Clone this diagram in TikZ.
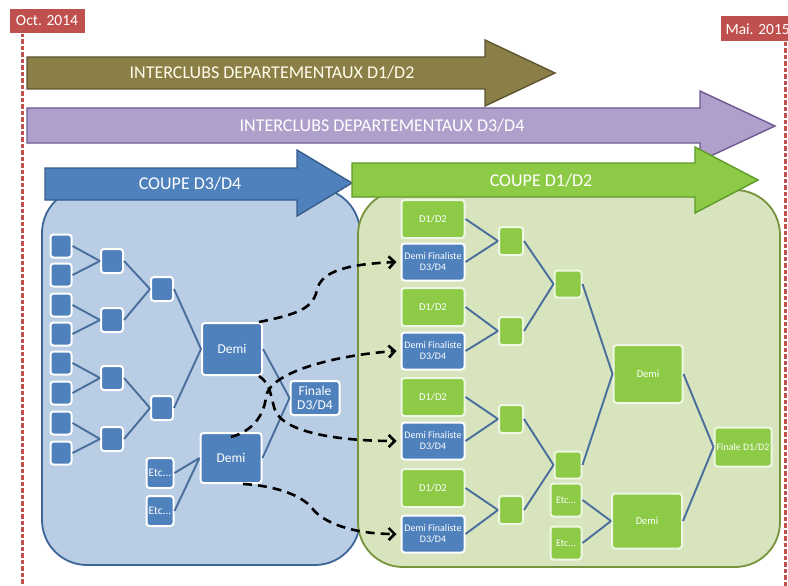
\documentclass[tikz,border=0pt]{standalone}
\usepackage{fontspec}
\setmainfont{Carlito}
\usetikzlibrary{arrows.meta}
\definecolor{cRed}{HTML}{C0504D}
\definecolor{cOlive}{HTML}{8B7F48}
\definecolor{cOliveD}{HTML}{5E5530}
\definecolor{cPurple}{HTML}{AE9FCB}
\definecolor{cPurpleD}{HTML}{6E5A90}
\definecolor{cBlue}{HTML}{4F81BD}
\definecolor{cBlueD}{HTML}{385D8A}
\definecolor{cGreen}{HTML}{8DCB47}
\definecolor{cGreenD}{HTML}{5E9A2A}
\definecolor{cPanelB}{HTML}{B9CDE5}
\definecolor{cPanelBD}{HTML}{3E6597}
\definecolor{cPanelG}{HTML}{D7E4BD}
\definecolor{cPanelGD}{HTML}{77933C}
\definecolor{cLine}{HTML}{4A6E9C}
\tikzset{
  datebox/.style={fill=cRed, draw=white, line width=1pt, text=white, font=\fontsize{15.5}{17}\selectfont, inner xsep=5pt, minimum height=25pt},
  dateline/.style={draw=cRed, line width=3pt, dash pattern=on 4.5pt off 2pt},
  bigarrow/.style={line width=1.4pt},
  arrowtext/.style={text=white, font=\fontsize{18}{20}\selectfont},
  panel/.style={rounded corners=45pt, line width=1.8pt},
  bsq/.style={rectangle, fill=cBlue, draw=white, line width=2pt, rounded corners=3pt, inner sep=0pt, text=white, align=center},
  gsq/.style={rectangle, fill=cGreen, draw=white!85!cGreen, line width=2pt, rounded corners=3pt, inner sep=0pt, text=white, align=center},
  conn/.style={draw=cLine, line width=1.9pt},
  dasharrow/.style={draw=black, line width=2.6pt, dash pattern=on 9pt off 6pt, -{Straight Barb[length=6pt,width=12pt,line width=2.6pt]}},
  smalltxt/.style={font=\fontsize{10.5}{11.5}\selectfont},
  dftxt/.style={font=\fontsize{10}{11}\selectfont},
  midtxt/.style={font=\fontsize{13.5}{15}\selectfont}
}
\begin{document}
\begin{tikzpicture}[x=1pt,y=-1pt]
\path[use as bounding box, clip] (0,0) rectangle (788,586);
\fill[white] (0,0) rectangle (788,586);

% date lines and labels
\coordinate (octTop) at (22,33);
\coordinate (octBot) at (22,586);
\draw[dateline] (octTop) -- (octBot);
\coordinate (maiTop) at (785,42);
\coordinate (maiBot) at (785,586);
\draw[dateline] (maiTop) -- (maiBot);
\node[datebox, minimum width=76pt] (oct) at (47,21) {Oct. 2014};
\node[datebox, anchor=west, minimum height=26pt] (mai) at (720,29) {Mai. 2015};

% big arrows
\draw[bigarrow, fill=cOlive, draw=cOliveD] (27,57)--(485,57)--(485,40)--(555,73)--(485,106)--(485,89)--(27,89)--cycle;
\node[arrowtext, text=white!92!yellow] (tOlive) at (272,73) {INTERCLUBS DEPARTEMENTAUX D1/D2};
\draw[bigarrow, fill=cPurple, draw=cPurpleD] (27,108)--(700,108)--(700,91)--(775,126)--(700,161)--(700,143)--(27,143)--cycle;
\node[arrowtext] (tPurple) at (382,126) {INTERCLUBS DEPARTEMENTAUX D3/D4};

% panels
\draw[panel, fill=cPanelB, draw=cPanelBD] (42,188) rectangle (360,565);
\draw[panel, fill=cPanelG, draw=cPanelGD] (358,190) rectangle (780,567);

\draw[bigarrow, fill=cBlue, draw=cBlueD] (45,168)--(297,168)--(297,150)--(352,183)--(297,216)--(297,200)--(45,200)--cycle;
\node[arrowtext] (tBlue) at (190,184) {COUPE D3/D4};
\draw[bigarrow, fill=cGreen, draw=cGreenD] (352,163)--(695,163)--(695,147)--(758,180)--(695,213)--(695,197)--(352,197)--cycle;
\node[arrowtext] (tGreen) at (541,181) {COUPE D1/D2};

% left tree
\tikzset{s1/.style={bsq, minimum width=21pt, minimum height=23pt},
         s2/.style={bsq, minimum width=22pt, minimum height=24pt}}
\node[s1] (a1) at (61,246) {};
\node[s1] (a2) at (61,275) {};
\node[s1] (a3) at (61,305) {};
\node[s1] (a4) at (61,334) {};
\node[s1] (a5) at (61,363) {};
\node[s1] (a6) at (61,393) {};
\node[s1] (a7) at (61,423) {};
\node[s1] (a8) at (61,453) {};
\node[s2] (b1) at (112,261) {};
\node[s2] (b2) at (112,320) {};
\node[s2] (b3) at (112,378) {};
\node[s2] (b4) at (112,439) {};
\node[s2] (c1) at (162,289) {};
\node[s2] (c2) at (162,408) {};
\node[bsq, midtxt, minimum width=60pt, minimum height=52pt] (dA) at (232,349) {Demi};
\node[bsq, midtxt, minimum width=61pt, minimum height=50pt] (dB) at (231,458) {Demi};
\node[bsq, minimum width=49pt, minimum height=34pt, font=\fontsize{13.5}{14}\selectfont] (fD) at (315,398) {Finale\\D3/D4};
\node[bsq, minimum width=27pt, minimum height=30pt, font=\fontsize{11.5}{12}\selectfont] (e1) at (160,473) {Etc...};
\node[bsq, minimum width=27pt, minimum height=30pt, font=\fontsize{11.5}{12}\selectfont] (e2) at (160,511) {Etc...};

\foreach \s/\t in {a1/b1,a2/b1,a3/b2,a4/b2,a5/b3,a6/b3,a7/b4,a8/b4,b1/c1,b2/c1,b3/c2,b4/c2,c1/dA,c2/dA,e1/dB,e2/dB,dA/fD,dB/fD}
  \draw[conn] (\s.east) -- (\t.west);

% right tree
\tikzset{gq/.style={gsq, smalltxt, minimum width=63pt, minimum height=38pt},
         fq/.style={bsq, dftxt, minimum width=63pt, minimum height=37pt}}
\node[gq] (g1) at (433,219) {D1/D2};
\node[fq] (f1) at (433,262) {Demi Finaliste\\D3/D4};
\node[gq] (g2) at (433,307) {D1/D2};
\node[fq] (f2) at (433,351) {Demi Finaliste\\D3/D4};
\node[gq] (g3) at (433,397) {D1/D2};
\node[fq] (f3) at (433,441) {Demi Finaliste\\D3/D4};
\node[gq] (g4) at (433,488) {D1/D2};
\node[fq] (f4) at (433,534) {Demi Finaliste\\D3/D4};
\node[gsq, minimum width=24pt, minimum height=28pt] (h1) at (511,241) {};
\node[gsq, minimum width=24pt, minimum height=28pt] (h2) at (511,331) {};
\node[gsq, minimum width=24pt, minimum height=28pt] (h3) at (511,419) {};
\node[gsq, minimum width=24pt, minimum height=28pt] (h4) at (511,510) {};
\node[gsq, minimum width=27pt, minimum height=27pt] (k1) at (568,284) {};
\node[gsq, minimum width=27pt, minimum height=27pt] (k2) at (568,465) {};
\node[gsq, dftxt, minimum width=31pt, minimum height=33pt] (m1) at (566,500) {Etc...};
\node[gsq, dftxt, minimum width=31pt, minimum height=33pt] (m2) at (566,543) {Etc...};
\node[gsq, smalltxt, minimum width=69pt, minimum height=58pt] (D1) at (648,374) {Demi};
\node[gsq, smalltxt, minimum width=70pt, minimum height=55pt] (D2) at (647,521) {Demi};
\node[gsq, dftxt, minimum width=57pt, minimum height=39pt] (fG) at (743,447) {Finale D1/D2};

\foreach \s/\t in {g1/h1,f1/h1,g2/h2,f2/h2,g3/h3,f3/h3,g4/h4,f4/h4,h1/k1,h2/k1,h3/k2,h4/k2,k1/D1,k2/D1,m1/D2,m2/D2,D1/fG,D2/fG}
  \draw[conn] (\s.east) -- (\t.west);

% dashed transfers
\draw[dasharrow] ([xshift=-4pt]dA.north east) .. controls +(40,-8) and +(-4,18) .. (317,290) .. controls +(4,-20) and +(-45,2) .. ([xshift=-4pt]f1.west);
\draw[dasharrow] ([yshift=-5pt]dB.north) .. controls +(22,-6) and +(-2,18) .. (266,397) .. controls +(3,-25) and +(-60,4) .. ([xshift=-4pt]f2.west);
\draw[dasharrow] ([xshift=-4pt]dA.south east) .. controls +(12,8) and +(-5,-15) .. (275,410) .. controls +(8,22) and +(-60,0) .. ([xshift=-4pt]f3.west);
\draw[dasharrow] ([xshift=12pt]dB.south) .. controls +(35,2) and +(-10,-12) .. (312,508) .. controls +(10,14) and +(-45,0) .. ([xshift=-4pt]f4.west);
\end{tikzpicture}
\end{document}
